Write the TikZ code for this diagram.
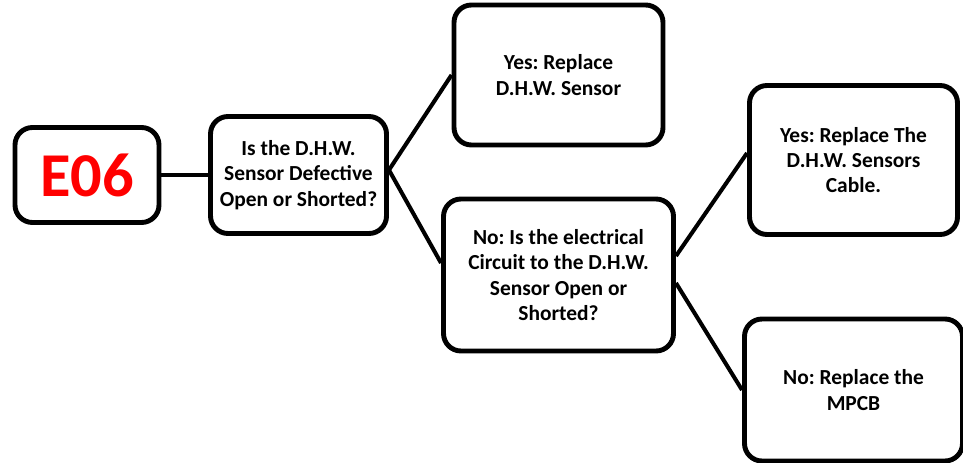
\documentclass[tikz,border=0pt]{standalone}
\usepackage{fontspec}
\setmainfont{Carlito}
\usetikzlibrary{trees}
\definecolor{errred}{RGB}{255,0,0}
\frenchspacing

\begin{document}
\begin{tikzpicture}[
  grow=right,
  box/.style={rectangle, draw, rounded corners=0.35cm, line width=2.8pt, align=center,
    font=\fontsize{12.2}{14.4}\selectfont\bfseries},
  code/.style={box, text=errred, font=\fontsize{35.5}{40}\selectfont\bfseries},
  edge from parent/.style={draw, line width=2.3pt},
  edge from parent path={(\tikzparentnode.east) -- (\tikzchildnode.west)},
  level 1/.style={level distance=4.23cm},
  level 2/.style={level distance=5.2cm, sibling distance=4cm},
  level 3/.style={level distance=5.9cm, sibling distance=4.6cm}
]
\useasboundingbox (-1.74,3.5) rectangle (17.52,-5.74);
\node [code, minimum width=2.88cm, minimum height=1.9cm] (e06) {E06}
  child {node [box, minimum width=3.52cm, minimum height=2.34cm] (q1)
      {Is the D.H.W.\\ Sensor Defective\\ Open or Shorted?}
    child[edge from parent path={([yshift=1mm]\tikzparentnode.east) -- ([yshift=2.4mm]\tikzchildnode.west)}]
      {node [box, minimum width=4.6cm, minimum height=3.04cm] (no1)
        {No: Is the electrical\\ Circuit to the D.H.W.\\ Sensor Open or\\ Shorted?}
      child[edge from parent path={([yshift=-1.6mm]\tikzparentnode.east) -- (\tikzchildnode.west)}]
        {node [box, minimum width=4.36cm, minimum height=2.84cm] (no2)
          {No: Replace the\\ MPCB}}
      child[edge from parent path={([yshift=3.8mm]\tikzparentnode.east) -- ([yshift=1.4mm]\tikzchildnode.west)}]
        {node [box, minimum width=4.16cm, minimum height=2.98cm] (yes2)
          {Yes: Replace The\\ D.H.W. Sensors\\ Cable.}}
    }
    child[edge from parent path={([yshift=1mm]\tikzparentnode.east) -- (\tikzchildnode.west)}]
      {node [box, minimum width=4.18cm, minimum height=2.8cm] (yes1)
        {Yes: Replace\\ D.H.W. Sensor}}
  };
\end{tikzpicture}
\end{document}
